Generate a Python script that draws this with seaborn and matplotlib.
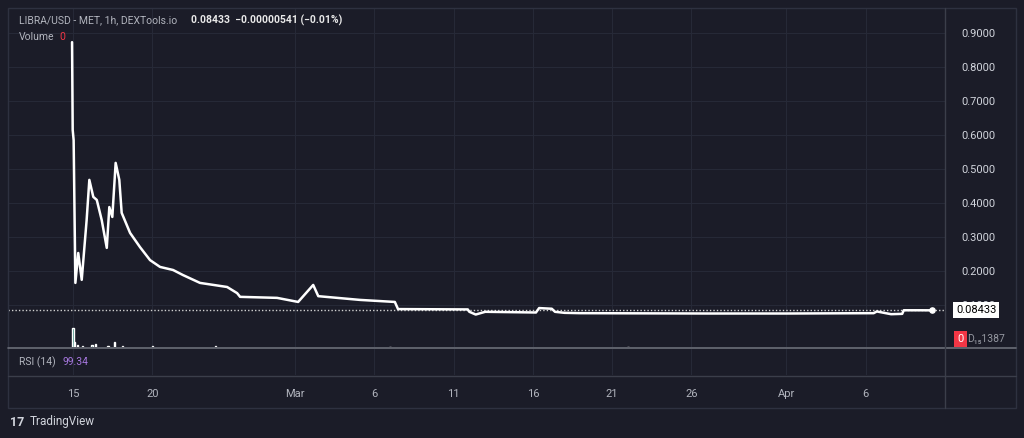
import numpy as np
import pandas as pd
import matplotlib
matplotlib.use("Agg")
import matplotlib.pyplot as plt
import seaborn as sns

# days since Feb 15 (hourly chart, key points)
days = [-0.06, -0.02, 0.04, 0.15, 0.33, 0.55, 0.86, 1.03, 1.28, 1.50, 1.81, 2.13, 2.29,
        2.48, 2.69, 2.92, 3.07, 3.60, 4.23, 4.86, 5.49, 6.31, 6.94, 8.01, 9.72, 10.35,
        10.54, 12.87, 14.2, 15.15, 15.47, 18.1, 20.3, 20.5, 24.9, 25.0, 25.4, 26.0, 29.2,
        29.4, 30.2, 30.4, 31.0, 32.0, 40.0, 45.0, 50.5, 50.7, 51.6, 52.3, 52.4, 53.4, 54.2]
price = [0.873, 0.615, 0.585, 0.165, 0.253, 0.174, 0.350, 0.468, 0.418, 0.409, 0.350,
         0.268, 0.388, 0.359, 0.518, 0.468, 0.371, 0.312, 0.270, 0.232, 0.212, 0.203,
         0.188, 0.165, 0.153, 0.135, 0.124, 0.121, 0.109, 0.159, 0.126, 0.115, 0.109,
         0.088, 0.087, 0.080, 0.072, 0.080, 0.078, 0.091, 0.089, 0.080, 0.077, 0.076,
         0.075, 0.075, 0.076, 0.081, 0.073, 0.074, 0.0845, 0.0845, 0.08433]
vol_days = [0.0, 0.1, 0.3, 0.6, 1.2, 1.4, 2.2, 2.6, 3.1, 5.0, 9.0, 20.0, 35.0]
vol = [0.055, 0.015, 0.006, 0.004, 0.006, 0.009, 0.004, 0.015, 0.004, 0.002, 0.002, 0.001, 0.001]
vol_up = [True, False, False, True, True, True, True, True, False, True, False, True, False]

x_ticks = [0, 5, 14, 19, 24, 29, 34, 39, 45, 50]
x_labels = ["15", "20", "Mar", "6", "11", "16", "21", "26", "Apr", "6"]
y_ticks = [0.1, 0.2, 0.3, 0.4, 0.5, 0.6, 0.7, 0.8, 0.9]

BG = "#1b1c28"
GRID = "#262937"
TXT = "#b2b5be"

sns.set_theme(style="dark")
plt.rcParams['font.family'] = ['Roboto', 'DejaVu Sans']

fig = plt.figure(figsize=(10.24, 4.38), dpi=100, facecolor=BG)
W, H = 1024, 438
def box(x0, y0, x1, y1):
    return [x0 / W, 1 - y1 / H, (x1 - x0) / W, (y1 - y0) / H]

ax = fig.add_axes(box(8, 8, 945, 347))
rsi = fig.add_axes(box(8, 349, 945, 375))
for a in (ax, rsi):
    a.set_facecolor(BG)
    for s in a.spines.values():
        s.set_visible(False)
    a.set_xlim(-4.1, 55.0)
    for t in x_ticks:
        a.axvline(t, color=GRID, lw=0.8, zorder=0)

df = pd.DataFrame({"day": days, "price": price})
sns.lineplot(data=df, x="day", y="price", ax=ax, color="white", lw=1.8, zorder=3)
ax.scatter([days[-1]], [price[-1]], s=14, color="white", zorder=4)
ax.axhline(price[-1], color="#d0d0d0", lw=1, ls=(0, (1, 1.5)), zorder=2)

for d, v, up in zip(vol_days, vol, vol_up):
    ax.bar(d, v, width=0.08, bottom=-0.0235, color="#1f7a6c" if up else "#8a3a44", zorder=1)

ax.set_ylim(-0.0235, 0.9735)
for t in y_ticks:
    ax.axhline(t, color=GRID, lw=0.8, zorder=0)
ax.yaxis.tick_right()
ax.set_yticks(y_ticks)
ax.set_yticklabels([f"{t:.4f}" for t in y_ticks], color="#d1d4dc", fontsize=8)
ax.tick_params(axis="y", length=0, pad=12)
ax.set_xticks([])
ax.set_xlabel("")
ax.set_ylabel("")

ax.text(0.012, 0.965, "LIBRA/USD - MET, 1h, DEXTools.io", transform=ax.transAxes,
        color=TXT, fontsize=7.5, va="center")
ax.text(0.195, 0.965, "0.08433  \u22120.00000541 (\u22120.01%)", transform=ax.transAxes,
        color="#e8e8e8", fontsize=7.5, va="center", fontweight="bold")
ax.text(0.012, 0.915, "Volume", transform=ax.transAxes, color=TXT, fontsize=7.5, va="center")
ax.text(0.055, 0.915, "0", transform=ax.transAxes, color="#f23645", fontsize=7.5, va="center")

# price labels on the right scale
fig.text(956 / W, 1 - 310 / H, "0.08433", color="black", fontsize=8, va="center", zorder=5,
         bbox=dict(boxstyle="square,pad=0.25", fc="white", ec="none"))
fig.text(957 / W, 1 - 339 / H, "0", color="white", fontsize=8, va="center",
         bbox=dict(boxstyle="square,pad=0.3", fc="#f23645", ec="none"))
fig.text(967 / W, 1 - 339 / H, "D\u2081\u20851387", color="#9598a1", fontsize=7.5, va="center")

rsi.set_ylim(0, 100)
rsi.set_yticks([])
rsi.text(0.012, 0.5, "RSI (14)", transform=rsi.transAxes, color=TXT, fontsize=7.5, va="center")
rsi.text(0.058, 0.5, "99.34", transform=rsi.transAxes, color="#a778e0", fontsize=7.5, va="center")
rsi.set_xticks(x_ticks)
rsi.set_xticklabels(x_labels, color=TXT, fontsize=8)
rsi.tick_params(axis="x", length=0, pad=10)

# separators and frame
fig.add_artist(plt.Line2D([8 / W, 1016 / W], [1 - 348 / H] * 2, color="#6b6e78", lw=1.2))
fig.add_artist(plt.Line2D([8 / W, 1016 / W], [1 - 376 / H] * 2, color="#3b3e4a", lw=1))
fig.add_artist(plt.Line2D([945 / W] * 2, [1 - 8 / H, 1 - 408 / H], color="#3b3e4a", lw=1))
fig.add_artist(plt.Rectangle((8 / W, 1 - 408 / H), 1008 / W, 400 / H, fill=False,
                             ec="#2e3140", lw=1))

fig.text(10 / W, 1 - 422 / H, "17", color="#d1d4dc", fontsize=9, fontweight="bold", va="center")
fig.text(30 / W, 1 - 422 / H, "TradingView", color="#d1d4dc", fontsize=8.5, va="center")

fig.savefig("out.png", dpi=100, facecolor=BG)
